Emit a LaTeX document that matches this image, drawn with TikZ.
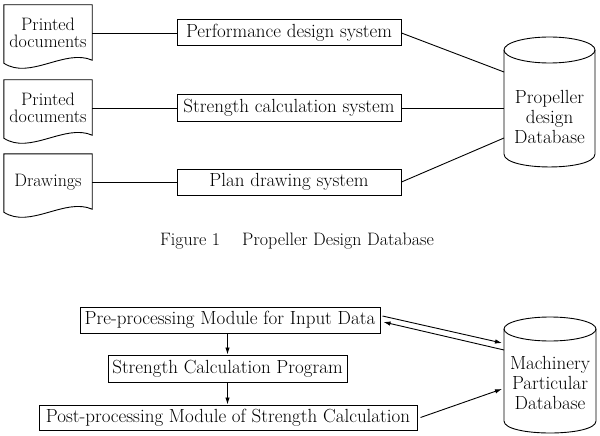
\documentclass[tikz,border=0pt]{standalone}
\usetikzlibrary{arrows.meta,calc}
\newcommand{\docoutline}[1]{%
  \draw[line] (#1.north west) -- ($(#1.south west)+(0,2)$)
    .. controls ($(#1.south west)+(26,19)$) and ($(#1.south east)+(-27,-13)$) ..
    ($(#1.south east)+(0,-1)$) -- (#1.north east) -- cycle;}
\begin{document}
\begin{tikzpicture}[x=1pt,y=-1pt,
  every node/.style={font=\fontsize{19}{20}\selectfont},
  box/.style={draw, line width=1pt, minimum height=26pt, inner sep=0pt},
  docarea/.style={minimum width=88pt, minimum height=56pt, inner sep=0pt, align=center,
    font=\fontsize{18}{17}\selectfont},
  dbtext/.style={align=center, inner sep=0pt, font=\fontsize{19}{20}\selectfont},
  line/.style={line width=0.9pt},
  arr/.style={line width=0.9pt, -{Latex[length=7pt,width=4.5pt]}}]
\useasboundingbox (0,0) rectangle (600,436);

% ---------- Figure 1 ----------
\node[docarea] (doc1) at (48,33) {Printed\\documents};
\node[docarea] (doc2) at (48,108) {Printed\\documents};
\node[docarea] (doc3) at (48,182) {Drawings};
\docoutline{doc1}
\docoutline{doc2}
\docoutline{doc3}

\node[box, minimum width=224pt] (perf) at (289,33) {Performance design system};
\node[box, minimum width=224pt] (str) at (289,108) {Strength calculation system};
\node[box, minimum width=224pt] (plan) at (289,182) {Plan drawing system};

\node[dbtext] (db1) at (549.5,117) {Propeller\\design\\Database};
\draw[line] (504,50) -- (504,154) .. controls (504,171.3) and (595,171.3) .. (595,154) -- (595,50);
\draw[line] (549.5,50) ellipse [x radius=45.5, y radius=13];
\coordinate (db1a) at (504,72);
\coordinate (db1b) at (504,108);
\coordinate (db1c) at (504,138);

\draw[line] (doc1.east) -- (perf.west);
\draw[line] (doc2.east) -- (str.west);
\draw[line] (doc3.east) -- (plan.west);
\draw[line] (perf.east) -- (db1a);
\draw[line] (str.east) -- (db1b);
\draw[line] (plan.east) -- (db1c);

\node[font=\fontsize{18}{18}\selectfont] (cap) at (297,241) {Figure 1\hspace{22pt}Propeller Design Database};

% ---------- Figure 2 ----------
\node[box, minimum width=300pt] (pre) at (230,320) {Pre-processing Module for Input Data};
\node[box, minimum width=239pt, minimum height=27pt] (sp) at (227.5,368.5) {Strength Calculation Program};
\node[box, minimum width=378pt, minimum height=25pt] (post) at (228,417.5) {Post-processing Module of Strength Calculation};

\node[dbtext] (db2) at (550,383) {Machinery\\Particular\\Database};
\draw[line] (504,329) -- (504,421) .. controls (504,437) and (596,437) .. (596,421) -- (596,329);
\draw[line] (550,329) ellipse [x radius=46, y radius=12];
\coordinate (db2a) at (502,343);
\coordinate (db2b) at (504,350);
\coordinate (db2c) at (502,389);

\draw[arr] (pre.south -| sp.north) -- (sp.north);
\draw[arr] (sp.south) -- (sp.south |- post.north);
\draw[arr] ([xshift=2pt,yshift=4pt]pre.east) -- (db2a);
\draw[arr] (db2b) -- ([xshift=3pt,yshift=-2pt]pre.east);
\draw[arr] ([xshift=3pt]post.east) -- (db2c);
\end{tikzpicture}
\end{document}
